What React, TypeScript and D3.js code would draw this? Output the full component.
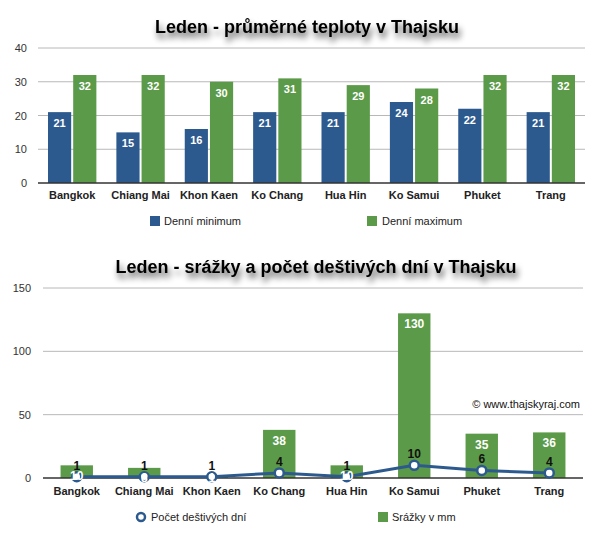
import React from "react";
import * as d3 from "d3";

const cities = ["Bangkok", "Chiang Mai", "Khon Kaen", "Ko Chang", "Hua Hin", "Ko Samui", "Phuket", "Trang"];
const tempMin = [21, 15, 16, 21, 21, 24, 22, 21];
const tempMax = [32, 32, 30, 31, 29, 28, 32, 32];
const tempTicks = [0, 10, 20, 30, 40];
const rainMm = [10, 8, 1, 38, 10, 130, 35, 36];
const rainDays = [1, 1, 1, 4, 1, 10, 6, 4];
const rainTicks = [0, 50, 100, 150];

const title1 = "Leden - průměrné teploty v Thajsku";
const title2 = "Leden - srážky a počet deštivých dní v Thajsku";
const legend1 = ["Denní minimum", "Denní maximum"];
const legend2 = ["Počet deštivých dní", "Srážky v mm"];
const copyright = "© www.thajskyraj.com";

const BLUE = "#2d5a8e";
const GREEN = "#5b9a48";
const FONT = "'Liberation Sans', Arial, Helvetica, sans-serif";

export default function App() {
  // Top chart scales
  const x1 = d3.scaleBand<string>().domain(cities).range([38, 585]).paddingInner(0).paddingOuter(0);
  const sub = d3.scaleBand<string>().domain(["min", "max"]).range([10, x1.bandwidth() - 10]).paddingInner(0.08);
  const y1 = d3.scaleLinear().domain([0, 40]).range([183, 48]);

  // Bottom chart scales
  const x2 = d3.scaleBand<string>().domain(cities).range([43, 583]).paddingInner(0.52).paddingOuter(0.26);
  const y2 = d3.scaleLinear().domain([0, 150]).range([478, 288]);
  const cx2 = (c: string) => (x2(c) as number) + x2.bandwidth() / 2;
  const line = d3.line<number>().x((_, i) => cx2(cities[i])).y((d) => y2(d));

  return (
    <svg width={600} height={535} style={{ position: "absolute", left: 0, top: 0, background: "#fff" }} fontFamily={FONT}>
      <defs>
        <filter id="tshadow" x="-10%" y="-50%" width="120%" height="220%">
          <feGaussianBlur in="SourceAlpha" stdDeviation="3" />
          <feOffset dx="2" dy="5" result="b" />
          <feComponentTransfer>
            <feFuncA type="linear" slope="0.7" />
          </feComponentTransfer>
          <feMerge>
            <feMergeNode />
            <feMergeNode in="SourceGraphic" />
          </feMerge>
        </filter>
      </defs>

      {/* ===== Top chart ===== */}
      <text x={307} y={33} textAnchor="middle" fontSize={18} fontWeight="bold" fill="#000" filter="url(#tshadow)">
        {title1}
      </text>
      {tempTicks.map((t) => (
        <g key={"g1" + t}>
          {t !== 0 && <line x1={38} x2={585} y1={y1(t)} y2={y1(t)} stroke="#b8b8b8" strokeWidth={1} />}
          <text x={27} y={y1(t) + 4} textAnchor="end" fontSize={11} fill="#333">
            {t}
          </text>
        </g>
      ))}
      {cities.map((c, i) => {
        const bx = x1(c) as number;
        const xm = bx + (sub("min") as number);
        const xM = bx + (sub("max") as number);
        const w = sub.bandwidth();
        return (
          <g key={"b1" + c}>
            <rect x={xm} y={y1(tempMin[i])} width={w} height={y1(0) - y1(tempMin[i])} fill={BLUE} />
            <rect x={xM} y={y1(tempMax[i])} width={w} height={y1(0) - y1(tempMax[i])} fill={GREEN} />
            <text x={xm + w / 2} y={y1(tempMin[i]) + 15} textAnchor="middle" fontSize={11} fontWeight="bold" fill="#fff">
              {tempMin[i]}
            </text>
            <text x={xM + w / 2} y={y1(tempMax[i]) + 15} textAnchor="middle" fontSize={11} fontWeight="bold" fill="#fff">
              {tempMax[i]}
            </text>
            <text x={bx + x1.bandwidth() / 2} y={199} textAnchor="middle" fontSize={11} fontWeight="bold" fill="#222">
              {c}
            </text>
          </g>
        );
      })}
      <line x1={38} x2={585} y1={y1(0)} y2={y1(0)} stroke="#333" strokeWidth={1.5} />
      <rect x={150} y={216} width={10} height={10} fill={BLUE} />
      <text x={164} y={225} fontSize={11} fill="#222">{legend1[0]}</text>
      <rect x={367} y={216} width={10} height={10} fill={GREEN} />
      <text x={382} y={225} fontSize={11} fill="#222">{legend1[1]}</text>

      {/* ===== Bottom chart ===== */}
      <text x={316} y={273} textAnchor="middle" fontSize={18} fontWeight="bold" fill="#000" filter="url(#tshadow)">
        {title2}
      </text>
      {rainTicks.map((t) => (
        <g key={"g2" + t}>
          {t !== 0 && <line x1={43} x2={583} y1={y2(t)} y2={y2(t)} stroke="#b8b8b8" strokeWidth={1} />}
          <text x={31} y={y2(t) + 4} textAnchor="end" fontSize={11} fill="#333">
            {t}
          </text>
        </g>
      ))}
      <text x={580} y={408} textAnchor="end" fontSize={11} fill="#111">{copyright}</text>
      {cities.map((c, i) => (
        <rect key={"b2" + c} x={x2(c) as number} y={y2(rainMm[i])} width={x2.bandwidth()} height={y2(0) - y2(rainMm[i])} fill={GREEN} />
      ))}
      {cities.map((c) => (
        <text key={"cl2" + c} x={cx2(c)} y={495} textAnchor="middle" fontSize={11} fontWeight="bold" fill="#222">
          {c}
        </text>
      ))}
      <line x1={43} x2={583} y1={y2(0)} y2={y2(0)} stroke="#333" strokeWidth={1.5} />
      <path d={line(rainDays) || ""} fill="none" stroke={BLUE} strokeWidth={3} />
      {cities.map((c, i) => (
        <g key={"p2" + c}>
          <circle cx={cx2(c)} cy={y2(rainDays[i])} r={4.5} fill="#fff" stroke={BLUE} strokeWidth={2.5} />
          <text x={cx2(c)} y={y2(rainDays[i]) - 7} textAnchor="middle" fontSize={12} fontWeight="bold" fill="#111">
            {rainDays[i]}
          </text>
        </g>
      ))}
      {cities.map((c, i) => (
        <text key={"ml2" + c} x={cx2(c)} y={Math.min(y2(rainMm[i]) + 15, y2(0) + 4)} textAnchor="middle" fontSize={12} fontWeight="bold" fill="#fff">
          {rainMm[i]}
        </text>
      ))}
      <circle cx={141} cy={517} r={4} fill="#fff" stroke={BLUE} strokeWidth={2.5} />
      <text x={151} y={521} fontSize={11} fill="#222">{legend2[0]}</text>
      <rect x={378} y={512} width={10} height={10} fill={GREEN} />
      <text x={392} y={521} fontSize={11} fill="#222">{legend2[1]}</text>
    </svg>
  );
}
